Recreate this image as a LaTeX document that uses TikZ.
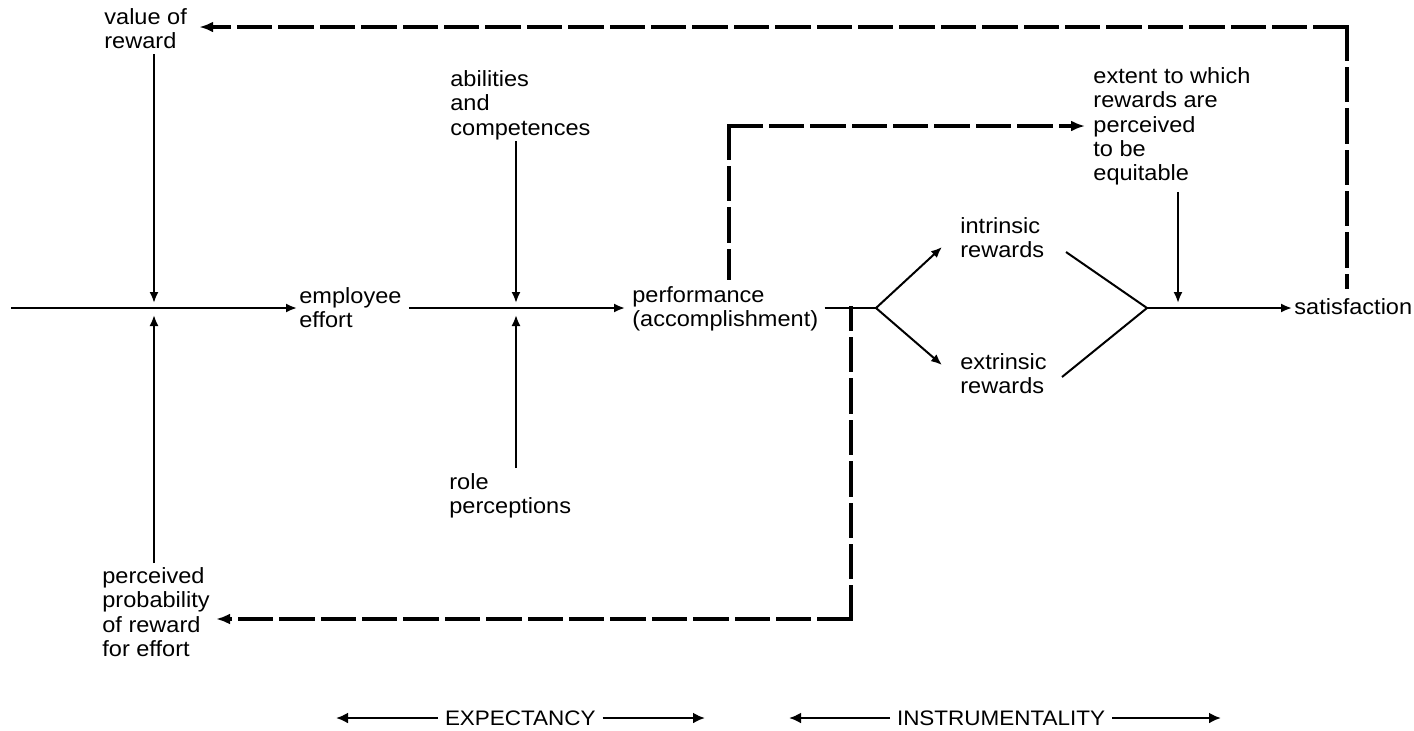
\documentclass[tikz,border=0pt]{standalone}
\usepackage{fontspec}
\setmainfont{Liberation Sans}[FakeStretch=1.07]
\usetikzlibrary{arrows.meta,calc}
\begin{document}
\begin{tikzpicture}[x=0.5pt,y=-0.5pt,
  lbl/.style={anchor=north west,align=left,inner sep=0pt,font=\fontsize{11}{12.2}\selectfont},
  captxt/.style={anchor=west,inner sep=0pt,outer sep=3.5pt,font=\fontsize{10.5}{12}\selectfont},
  solidarrow/.style={line width=1pt,-{Latex[length=5.5pt,width=4.5pt]}},
  plainline/.style={line width=1pt},
  dashh/.style={line width=1.7pt,line cap=rect,dash pattern=on 16pt off 4.7pt},
  dashv/.style={line width=1.7pt,line cap=rect,dash pattern=on 16pt off 4.7pt},
  dtip/.style={-{Latex[length=7pt,width=5.5pt]}},
  spanarrow/.style={line width=1.4pt,-{Latex[length=6pt,width=5.5pt]}}
]
\useasboundingbox (0,0) rectangle (1414,730);

% text nodes
\node[lbl] (valrew) at (104,8) {value of\\reward};
\node[lbl] (effort) at (299,287) {employee\\effort};
\node[lbl] (abil) at (450,70) {abilities\\and\\competences};
\node[lbl] (role) at (449,473) {role\\perceptions};
\node[lbl] (perc) at (102,567) {perceived\\probability\\of reward\\for effort};
\node[lbl] (perf) at (632,286) {performance\\(accomplishment)};
\node[lbl] (intr) at (960,217) {intrinsic\\rewards};
\node[lbl] (extr) at (960,353) {extrinsic\\rewards};
\node[lbl] (ext) at (1093,67) {extent to which\\rewards are\\perceived\\to be\\equitable};
\node[lbl,anchor=base west] (sat) at (1294,314) {satisfaction};

% coordinates
\coordinate (s0) at (11,308);
\coordinate (j1) at (154,308);
\coordinate (j2) at (516,308);
\coordinate (j3) at (1178,308);
\coordinate (sp) at (876,308);
\coordinate (mg) at (1147,308);
\coordinate (j4) at (851,308);
\coordinate (ti) at (942,247);
\coordinate (te) at (942,365);
\coordinate (ri) at (1066,252);
\coordinate (re) at (1062,377);
\coordinate (c1) at (729,126);
\coordinate (c2) at (1347,27);
\coordinate (c4) at (851,619);

% main flow
\draw[solidarrow,shorten >=1pt] (s0) -- (s0 -| effort.west);
\draw[solidarrow,shorten <=3.5pt,shorten >=3.5pt] (effort.east |- j2) -- (perf.west |- j2);
\draw[solidarrow,shorten <=2.5pt,shorten >=2.5pt] (valrew.south -| j1) -- (j1);
\draw[solidarrow,shorten <=2pt,shorten >=3.5pt] (perc.north -| j1) -- (j1);
\draw[solidarrow,shorten <=0.5pt,shorten >=2.5pt] (abil.south -| j2) -- (j2);
\draw[solidarrow,shorten <=2.5pt,shorten >=3.5pt] (role.north -| j2) -- (j2);
\draw[plainline,shorten <=3pt] (perf.east |- sp) -- (sp);
\draw[solidarrow] (sp) -- (ti);
\draw[solidarrow] (sp) -- (te);
\draw[plainline] (ri) -- (mg) -- (re);
\draw[solidarrow,shorten >=1pt] (mg) -- (mg -| sat.west);
\draw[solidarrow,shorten <=3pt,shorten >=2.5pt] (ext.south -| j3) -- (j3);

% dashed feedback loops
\draw[dashv,shorten >=4pt] (c1) -- (c1 |- perf.north);
\draw[dashh,dtip,shorten >=4pt] (c1) -- (c1 -| ext.west);
\draw[dashv,shorten >=5pt] (c2) -- (c2 |- sat.north);
\draw[dashh,dtip,shorten >=6pt] (c2) -- (c2 -| valrew.east);
\draw[dashv] (c4) -- (j4);
\draw[dashh,dtip,shorten >=3pt] (c4) -- (c4 -| perc.east);

% bottom spans
\node[captxt] (exp) at (438,718) {EXPECTANCY};
\node[captxt] (ins) at (890,718) {INSTRUMENTALITY};
\coordinate (eL) at (336,718);
\coordinate (eR) at (705,718);
\coordinate (iL) at (789,718);
\coordinate (iR) at (1221,718);
\draw[spanarrow] (exp.west) -- (eL);
\draw[spanarrow] (exp.east) -- (eR);
\draw[spanarrow] (ins.west) -- (iL);
\draw[spanarrow] (ins.east) -- (iR);
\end{tikzpicture}
\end{document}
